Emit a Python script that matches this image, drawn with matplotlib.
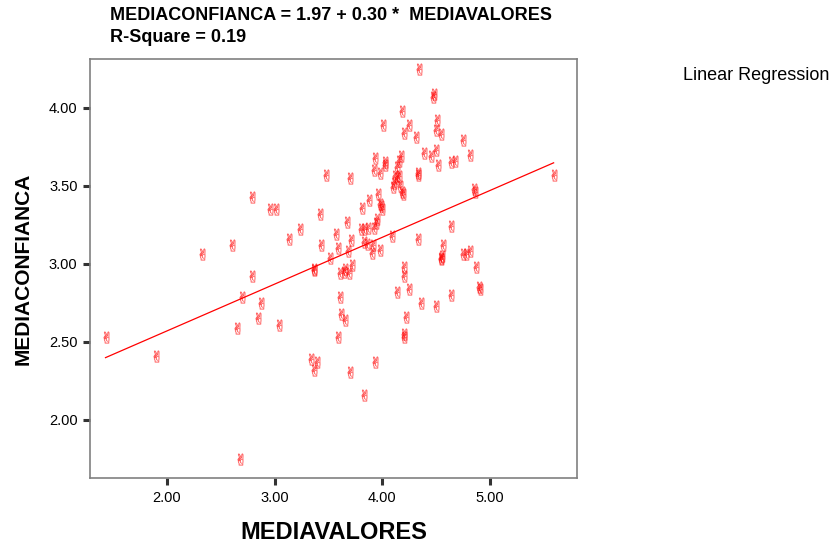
import numpy as np
import matplotlib
matplotlib.use("Agg")
import matplotlib.pyplot as plt

plt.rcParams['font.family'] = ['Liberation Sans', 'DejaVu Sans']

# MEDIAVALORES (x) and MEDIACONFIANCA (y)
valores = [4.34, 4.47, 4.48, 4.18, 4.01, 4.25, 4.20, 4.31, 4.51, 4.50, 4.54,
           4.75, 4.81, 4.39, 4.45, 4.50, 4.52, 4.64, 4.67, 3.93, 4.02, 4.02,
           3.92, 3.98, 4.17, 4.15, 4.14, 4.12, 4.14, 4.11, 4.10, 4.16, 4.18,
           4.19, 4.15, 4.33, 4.33, 3.48, 3.70, 2.79, 2.96, 3.01, 3.42, 3.81,
           3.88, 3.96, 3.98, 4.00, 3.99, 4.85, 4.86, 5.59, 3.67, 3.24, 3.13,
           2.60, 2.33, 3.57, 3.80, 3.83, 3.87, 3.92, 3.94, 3.95, 3.83, 3.86,
           4.09, 4.33, 4.64, 3.43, 3.59, 3.71, 3.91, 3.90, 3.98, 3.68, 3.51,
           4.56, 4.54, 4.54, 4.55, 4.75, 4.78, 4.81, 3.37, 3.37, 3.61, 3.64,
           3.65, 3.69, 3.72, 2.79, 4.20, 4.20, 4.87, 4.90, 4.91, 4.14, 4.25,
           2.70, 3.61, 2.87, 4.36, 4.50, 4.64, 3.62, 3.65, 2.85, 4.22, 3.04,
           2.65, 1.43, 3.59, 4.20, 4.20, 1.90, 3.34, 3.39, 3.37, 3.93, 3.70,
           3.83, 2.68]
confianza = [4.25, 4.07, 4.09, 3.98, 3.89, 3.89, 3.84, 3.81, 3.92, 3.86, 3.83,
             3.79, 3.70, 3.71, 3.69, 3.73, 3.63, 3.65, 3.66, 3.68, 3.65, 3.63,
             3.60, 3.58, 3.69, 3.66, 3.62, 3.56, 3.55, 3.52, 3.49, 3.50, 3.46,
             3.45, 3.56, 3.57, 3.58, 3.57, 3.55, 3.43, 3.35, 3.35, 3.32, 3.36,
             3.41, 3.45, 3.38, 3.35, 3.37, 3.48, 3.46, 3.57, 3.27, 3.22, 3.16,
             3.12, 3.06, 3.19, 3.22, 3.22, 3.23, 3.23, 3.26, 3.29, 3.14, 3.13,
             3.18, 3.16, 3.24, 3.12, 3.10, 3.15, 3.12, 3.07, 3.09, 3.08, 3.04,
             3.12, 3.04, 3.03, 3.05, 3.06, 3.06, 3.08, 2.96, 2.97, 2.94, 2.95,
             2.97, 2.94, 2.99, 2.92, 2.98, 2.92, 2.98, 2.85, 2.84, 2.82, 2.84,
             2.79, 2.79, 2.75, 2.75, 2.73, 2.80, 2.68, 2.64, 2.65, 2.66, 2.61,
             2.59, 2.53, 2.53, 2.55, 2.53, 2.41, 2.39, 2.37, 2.32, 2.37, 2.31,
             2.16, 1.75]

intercept = 1.97
slope = 0.30
x_ticks = [2.0, 3.0, 4.0, 5.0]
y_ticks = [2.0, 2.5, 3.0, 3.5, 4.0]

fig = plt.figure(figsize=(8.34, 5.43), dpi=100)
ax = fig.add_axes([90 / 834, 1 - 478 / 543, 487 / 834, 419 / 543])

ax.scatter(valores, confianza, marker='$\u270C$', s=70, color='red',
           alpha=0.5, linewidths=0.3)

xl = np.linspace(min(valores), max(valores), 50)
ax.plot(xl, intercept + slope * xl, color='red', lw=0.9)

ax.set_xlim(1.286, 5.807)
ax.set_ylim(1.628, 4.312)
ax.set_xticks(x_ticks)
ax.set_yticks(y_ticks)
ax.set_xticklabels([f'{t:.2f}' for t in x_ticks])
ax.set_yticklabels([f'{t:.2f}' for t in y_ticks])
ax.tick_params(direction='out', length=5, width=2.2, color='#333333',
               labelsize=10.5, pad=4)
for s in ax.spines.values():
    s.set_color('#808080')
    s.set_linewidth(1.2)

ax.set_xlabel('MEDIAVALORES', fontsize=17, fontweight='bold', labelpad=12)
ax.set_ylabel('MEDIACONFIANCA', fontsize=15, fontweight='bold', labelpad=12)

fig.text(110 / 834, 1 - 16 / 543,
         'MEDIACONFIANCA = 1.97 + 0.30 *  MEDIAVALORES',
         fontsize=13, fontweight='bold', va='center')
fig.text(110 / 834, 1 - 37 / 543, 'R-Square = 0.19',
         fontsize=13, fontweight='bold', va='center')
fig.text(683 / 834, 1 - 75 / 543, 'Linear Regression', fontsize=13,
         va='center')

fig.savefig('out.png', dpi=100)
